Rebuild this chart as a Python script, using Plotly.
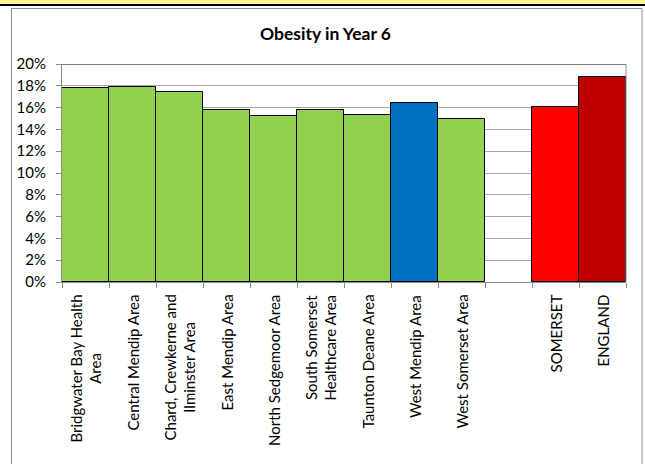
import plotly.graph_objects as go

# ---- data ----
categories = [
    "Bridgwater Bay Health<br>Area",
    "Central Mendip Area",
    "Chard, Crewkerne and<br>Ilminster Area",
    "East Mendip Area",
    "North Sedgemoor Area",
    "South Somerset<br>Healthcare Area",
    "Taunton Deane Area",
    "West Mendip Area",
    "West Somerset Area",
    "",
    "SOMERSET",
    "ENGLAND",
]
values = [17.8, 17.9, 17.45, 15.8, 15.2, 15.75, 15.3, 16.4, 15.0, None, 16.1, 18.8]
bar_colors = ["#92D050"] * 7 + ["#0070C0", "#92D050", "#FFFFFF", "#FF0000", "#C00000"]
y_ticks = [0, 2, 4, 6, 8, 10, 12, 14, 16, 18, 20]
y_tick_labels = ["0%", "2%", "4%", "6%", "8%", "10%", "12%", "14%", "16%", "18%", "20%"]
title_text = "Obesity in Year 6"

W, H = 645, 464
L, R, T, B = 62, 626, 64, 282


def xp(x):
    return (x - L) / (R - L)


def yp(y):
    return (B - y) / (B - T)


FONT = "Lato, Carlito, Calibri, sans-serif"

xs = list(range(len(categories)))

fig = go.Figure()
fig.add_trace(go.Bar(
    x=xs,
    y=values,
    marker=dict(color=bar_colors, line=dict(color="#000000", width=1)),
    width=1.0,
    hoverinfo="y",
))

annotations = []
for i, c in enumerate(categories):
    if not c:
        continue
    annotations.append(dict(
        x=i, xref="x", y=yp(293), yref="paper",
        text=c, showarrow=False, textangle=-90,
        xanchor="center", yanchor="top", align="center",
        font=dict(family=FONT, size=15, color="#000000"),
    ))
annotations.append(dict(
    x=xp(325), xref="paper", y=yp(33), yref="paper",
    text="<b>" + title_text + "</b>", showarrow=False,
    xanchor="center", yanchor="middle",
    font=dict(family=FONT, size=17.5, color="#000000"),
))

shapes = [
    # yellow band at top
    dict(type="rect", xref="paper", yref="paper", x0=xp(0), x1=xp(W), y0=yp(0), y1=yp(4.5),
         fillcolor="#FFF68F", line=dict(width=0), layer="below"),
    dict(type="line", xref="paper", yref="paper", x0=xp(0), x1=xp(W), y0=yp(5), y1=yp(5),
         line=dict(color="#000000", width=2)),
    # outer chart border
    dict(type="rect", xref="paper", yref="paper", x0=xp(11.5), x1=xp(642), y0=yp(8.5), y1=yp(470),
         line=dict(color="#8C8C8C", width=1), fillcolor="rgba(0,0,0,0)"),
    # plot-area top border (black) and right border (gray)
    dict(type="line", xref="paper", yref="y", x0=0, x1=1, y0=20, y1=20,
         line=dict(color="#000000", width=1)),
    dict(type="line", xref="paper", yref="y", x0=1, x1=1, y0=0, y1=20,
         line=dict(color="#8C8C8C", width=1)),
]

fig.update_layout(
    width=W, height=H,
    margin=dict(l=L, r=W - R, t=T, b=H - B),
    paper_bgcolor="#FFFFFF", plot_bgcolor="#FFFFFF",
    showlegend=False,
    bargap=0,
    annotations=annotations,
    shapes=shapes,
    font=dict(family=FONT, size=15, color="#000000"),
)
fig.update_xaxes(
    range=[-0.5, len(categories) - 0.5],
    tickmode="array",
    tickvals=[i - 0.5 for i in range(len(categories) + 1)],
    showticklabels=False,
    ticks="outside", ticklen=5, tickcolor="#8C8C8C", tickwidth=1,
    showline=True, linecolor="#8C8C8C", linewidth=1,
    showgrid=False, zeroline=False, fixedrange=True,
)
fig.update_yaxes(
    range=[0, 20],
    tickmode="array", tickvals=y_ticks, ticktext=y_tick_labels,
    ticks="outside", ticklen=5, tickcolor="#8C8C8C", tickwidth=1,
    ticklabelstandoff=7,
    showline=True, linecolor="#8C8C8C", linewidth=1,
    showgrid=True, gridcolor="#A6A6A6", gridwidth=1,
    zeroline=False, fixedrange=True,
    tickfont=dict(family=FONT, size=15, color="#000000"),
)

fig.write_html(
    "out.html",
    config={"displayModeBar": False},
    post_script="document.body.style.margin='0';document.body.style.overflow='hidden';",
)
